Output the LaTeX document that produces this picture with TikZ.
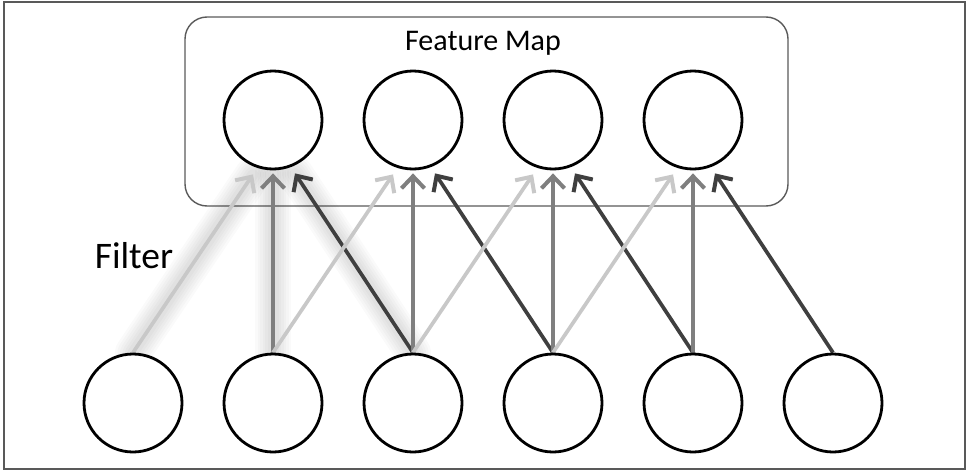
\documentclass[tikz,border=0pt]{standalone}
\usepackage{fontspec}
\setmainfont{Carlito}
\usetikzlibrary{arrows.meta,calc,backgrounds}
\definecolor{lightline}{HTML}{C8C8C8}
\definecolor{midline}{HTML}{7F7F7F}
\definecolor{darkline}{HTML}{3F3F3F}
\definecolor{boxline}{HTML}{5A5A5A}
\begin{document}
\begin{tikzpicture}[x=1pt,y=-1pt,
   unit/.style={circle,draw=black,line width=2.8pt,fill=white,minimum size=98pt,inner sep=0pt},
   wire/.style={line width=3.7pt,-{Straight Barb[length=12pt,width=23pt,line width=4pt]}},
   glow/.style={line cap=round,black,opacity=0.018}]
   \useasboundingbox (0,0) rectangle (966,471);
   \node[anchor=base,font=\fontsize{30}{35}\selectfont] (title) at (483,50) {Feature Map};
   \node[anchor=base,font=\fontsize{37.5}{44}\selectfont] (filter) at (134,268) {Filter};
   \foreach \i in {1,...,6}
     \node[unit] (in\i) at (\i*140-7,403) {};
   \foreach \j in {1,...,4}
     \node[unit] (fm\j) at (\j*140+133,120) {};
   \begin{pgfonlayer}{background}
     \draw[line width=1.3pt,black!65] (4,2) rectangle (965,469);
     \draw[boxline,line width=1.4pt,rounded corners=22pt,fill=white] (185,17) rectangle (788,206);
     % soft glow round the first filter
     \foreach \w in {36,31,26,21,16,11} {
       \draw[glow,line width=\w pt] (in1.north) -- ($(fm1.south)+(-20,4)$);
       \draw[glow,line width=\w pt] (in2.north) -- ($(fm1.south)+(0,3)$);
       \draw[glow,line width=\w pt] (in3.north) -- ($(fm1.south)+(22,3)$);
     }
     \foreach \j in {1,...,4} {
       \pgfmathtruncatemacro\b{\j+1}
       \pgfmathtruncatemacro\c{\j+2}
       \draw[wire,lightline] (in\j.north) -- ($(fm\j.south)+(-20,4)$);
       \draw[wire,midline] (in\b.north) -- ($(fm\j.south)+(0,3)$);
       \draw[wire,darkline] (in\c.north) -- ($(fm\j.south)+(22,3)$);
     }
   \end{pgfonlayer}
\end{tikzpicture}
\end{document}
